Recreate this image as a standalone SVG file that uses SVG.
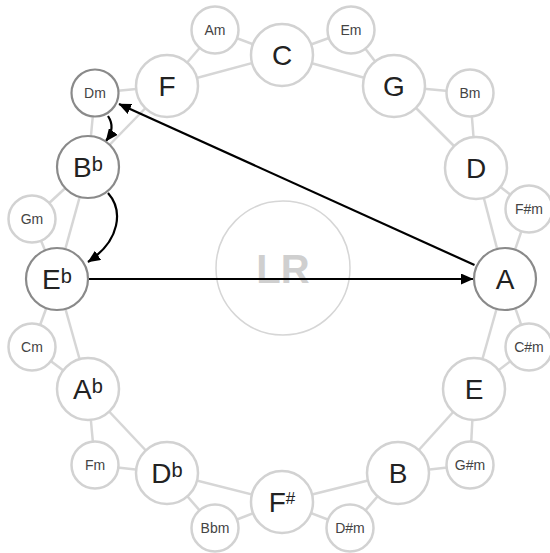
<svg xmlns="http://www.w3.org/2000/svg" width="550" height="553" viewBox="0 0 550 553">
<defs>
<style>
.link{stroke:#d6d6d6;stroke-width:2.5;fill:none}
.maj circle{fill:#fff;stroke:#d2d2d2;stroke-width:2.5}
.min circle{fill:#fff;stroke:#d2d2d2;stroke-width:2.5}
.hl circle{stroke:#8a8a8a;stroke-width:2.2}
.maj text{font-family:"Liberation Sans",Arial,sans-serif;font-size:28px;fill:#222;text-anchor:middle}
.min text{font-family:"Liberation Sans",Arial,sans-serif;font-size:14px;fill:#444;text-anchor:middle}
.sup{font-size:20px}
.sh{font-size:17px}
.arrow{stroke:#000;stroke-width:2.2;fill:none;marker-end:url(#ah)}
</style>
<marker id="ah" markerUnits="userSpaceOnUse" markerWidth="13" markerHeight="11" refX="12" refY="5.5" orient="auto">
<path d="M0,0 L12.5,5.5 L0,11 z" fill="#000"/>
</marker>
</defs>
<rect width="550" height="553" fill="#fff"/>
<g id="center">
<circle cx="283" cy="268" r="67" fill="none" stroke="#d6d6d6" stroke-width="1.5"/>
<text x="283" y="283" font-family="Liberation Sans,Arial,sans-serif" font-weight="bold" font-size="40" fill="#cfcfcf" text-anchor="middle">LR</text>
</g>
<g id="connectors">
<line class="link" x1="167" y1="86" x2="282" y2="55"/>
<line class="link" x1="282" y1="55" x2="394" y2="86"/>
<line class="link" x1="394" y1="86" x2="476" y2="168"/>
<line class="link" x1="476" y1="168" x2="505" y2="279"/>
<line class="link" x1="505" y1="279" x2="474" y2="389"/>
<line class="link" x1="474" y1="389" x2="398" y2="473"/>
<line class="link" x1="398" y1="473" x2="282" y2="502"/>
<line class="link" x1="282" y1="502" x2="167" y2="473"/>
<line class="link" x1="167" y1="473" x2="88" y2="389"/>
<line class="link" x1="88" y1="389" x2="57" y2="279"/>
<line class="link" x1="57" y1="279" x2="88" y2="167"/>
<line class="link" x1="88" y1="167" x2="167" y2="86"/>
<line class="link" x1="215" y1="30" x2="167" y2="86"/>
<line class="link" x1="215" y1="30" x2="282" y2="55"/>
<line class="link" x1="351" y1="30" x2="282" y2="55"/>
<line class="link" x1="351" y1="30" x2="394" y2="86"/>
<line class="link" x1="470" y1="93" x2="394" y2="86"/>
<line class="link" x1="470" y1="93" x2="476" y2="168"/>
<line class="link" x1="529" y1="209" x2="476" y2="168"/>
<line class="link" x1="529" y1="209" x2="505" y2="279"/>
<line class="link" x1="529" y1="347" x2="505" y2="279"/>
<line class="link" x1="529" y1="347" x2="474" y2="389"/>
<line class="link" x1="470" y1="465" x2="474" y2="389"/>
<line class="link" x1="470" y1="465" x2="398" y2="473"/>
<line class="link" x1="350" y1="528" x2="398" y2="473"/>
<line class="link" x1="350" y1="528" x2="282" y2="502"/>
<line class="link" x1="215" y1="528" x2="282" y2="502"/>
<line class="link" x1="215" y1="528" x2="167" y2="473"/>
<line class="link" x1="95" y1="465" x2="167" y2="473"/>
<line class="link" x1="95" y1="465" x2="88" y2="389"/>
<line class="link" x1="32" y1="347" x2="88" y2="389"/>
<line class="link" x1="32" y1="347" x2="57" y2="279"/>
<line class="link" x1="32" y1="219" x2="57" y2="279"/>
<line class="link" x1="32" y1="219" x2="88" y2="167"/>
<line class="link" x1="95" y1="93" x2="88" y2="167"/>
<line class="link" x1="95" y1="93" x2="167" y2="86"/>
<path class="arrow" d="M474.5,265 L119,104"/>
<path class="arrow" d="M89,279 L473,279"/>
<path class="arrow" d="M108,116 Q116,128 106,141"/>
<path class="arrow" d="M108,193 C123,210 121,240 88,262"/>
</g>
<g id="node-C" class="maj"><circle cx="282" cy="55" r="31"/><text x="282" y="65">C</text></g>
<g id="node-G" class="maj"><circle cx="394" cy="86" r="31"/><text x="394" y="96">G</text></g>
<g id="node-D" class="maj"><circle cx="476" cy="168" r="31"/><text x="476" y="178">D</text></g>
<g id="node-A" class="maj hl"><circle cx="505" cy="279" r="31"/><text x="505" y="289">A</text></g>
<g id="node-E" class="maj"><circle cx="474" cy="389" r="31"/><text x="474" y="399">E</text></g>
<g id="node-B" class="maj"><circle cx="398" cy="473" r="31"/><text x="398" y="483">B</text></g>
<g id="node-Fsharp" class="maj"><circle cx="282" cy="502" r="31"/><text x="282" y="512">F<tspan class="sh" dy="-8">#</tspan></text></g>
<g id="node-Db" class="maj"><circle cx="167" cy="473" r="31"/><text x="167" y="483">D<tspan class="sup" dy="-6">b</tspan></text></g>
<g id="node-Ab" class="maj"><circle cx="88" cy="389" r="31"/><text x="88" y="399">A<tspan class="sup" dy="-6">b</tspan></text></g>
<g id="node-Eb" class="maj hl"><circle cx="57" cy="279" r="31"/><text x="57" y="289">E<tspan class="sup" dy="-6">b</tspan></text></g>
<g id="node-Bb" class="maj hl"><circle cx="88" cy="167" r="31"/><text x="88" y="177">B<tspan class="sup" dy="-6">b</tspan></text></g>
<g id="node-F" class="maj"><circle cx="167" cy="86" r="31"/><text x="167" y="96">F</text></g>
<g id="node-Am" class="min"><circle cx="215" cy="30" r="23.5"/><text x="215" y="35">Am</text></g>
<g id="node-Em" class="min"><circle cx="351" cy="30" r="23.5"/><text x="351" y="35">Em</text></g>
<g id="node-Bm" class="min"><circle cx="470" cy="93" r="23.5"/><text x="470" y="98">Bm</text></g>
<g id="node-Fsharpm" class="min"><circle cx="529" cy="209" r="23.5"/><text x="529" y="214">F#m</text></g>
<g id="node-Csharpm" class="min"><circle cx="529" cy="347" r="23.5"/><text x="529" y="352">C#m</text></g>
<g id="node-Gsharpm" class="min"><circle cx="470" cy="465" r="23.5"/><text x="470" y="470">G#m</text></g>
<g id="node-Dsharpm" class="min"><circle cx="350" cy="528" r="23.5"/><text x="350" y="533">D#m</text></g>
<g id="node-Bbm" class="min"><circle cx="215" cy="528" r="23.5"/><text x="215" y="533">Bbm</text></g>
<g id="node-Fm" class="min"><circle cx="95" cy="465" r="23.5"/><text x="95" y="470">Fm</text></g>
<g id="node-Cm" class="min"><circle cx="32" cy="347" r="23.5"/><text x="32" y="352">Cm</text></g>
<g id="node-Gm" class="min"><circle cx="32" cy="219" r="23.5"/><text x="32" y="224">Gm</text></g>
<g id="node-Dm" class="min hl"><circle cx="95" cy="93" r="23.5"/><text x="95" y="98">Dm</text></g>
</svg>
